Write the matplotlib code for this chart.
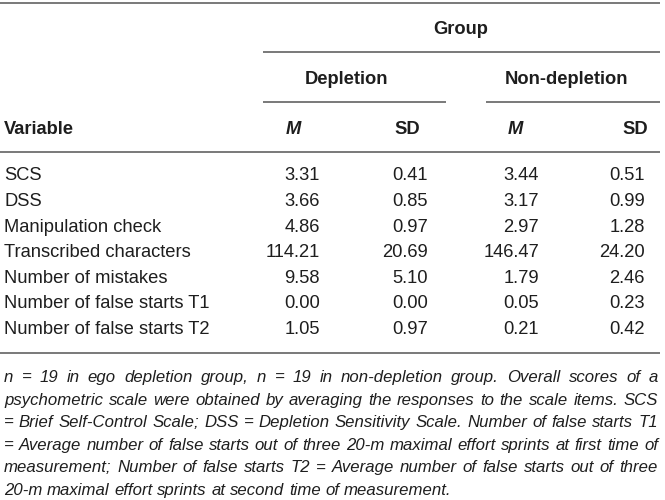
import matplotlib
matplotlib.use("Agg")
import matplotlib.pyplot as plt

# table data
variables = ["SCS", "DSS", "Manipulation check", "Transcribed characters",
             "Number of mistakes", "Number of false starts T1",
             "Number of false starts T2"]
dep_m = [3.31, 3.66, 4.86, 114.21, 9.58, 0.00, 1.05]
dep_sd = [0.41, 0.85, 0.97, 20.69, 5.10, 0.00, 0.97]
non_m = [3.44, 3.17, 2.97, 146.47, 1.79, 0.05, 0.21]
non_sd = [0.51, 0.99, 1.28, 24.20, 2.46, 0.23, 0.42]

note_lines = [
    "n = 19 in ego depletion group, n = 19 in non-depletion group. Overall scores of a",
    "psychometric scale were obtained by averaging the responses to the scale items. SCS",
    "= Brief Self-Control Scale; DSS = Depletion Sensitivity Scale. Number of false starts T1",
    "= Average number of false starts out of three 20-m maximal effort sprints at first time of",
    "measurement; Number of false starts T2 = Average number of false starts out of three",
    "20-m maximal effort sprints at second time of measurement.",
]

plt.rcParams['font.family'] = ['Liberation Sans', 'DejaVu Sans']
FS = 13.2
NFS = 12.1
TXT = '#1e1e1e'
LINE = '#6e6e6e'
BASE = 6.5    # baseline offset below the visual centre of a row (px)
NBASE = 6.0

W, H = 665, 500
fig = plt.figure(figsize=(W / 100, H / 100), dpi=100)
ax = fig.add_axes([0, 0, 1, 1])
ax.set_xlim(0, W)
ax.set_ylim(H, 0)
ax.axis('off')


def hline(y, x0, x1):
    ax.plot([x0, x1], [y, y], color=LINE, lw=1.3, solid_capstyle='butt')


def cell(x, y, s, ha='left', **kw):
    ax.text(x, y + BASE, s, ha=ha, va='baseline', fontsize=FS, color=TXT, **kw)


# rules
hline(3, 0, 660)
hline(52, 263, 660)
hline(102, 263, 446)
hline(102, 486, 660)
hline(152, 0, 660)
hline(353, 0, 660)

# headers
cell(461, 27, "Group", ha='center', fontweight='bold')
cell(347, 77, "Depletion", ha='center', fontweight='bold')
cell(567, 77, "Non-depletion", ha='center', fontweight='bold')
cell(4, 127, "Variable", fontweight='bold')
for xc, lab, st in [(293, "M", 'italic'), (407, "SD", 'normal'),
                    (515, "M", 'italic'), (635, "SD", 'normal')]:
    cell(xc, 127, lab, ha='center', fontweight='bold', fontstyle=st)

# body
cols = [(320, dep_m), (428, dep_sd), (539, non_m), (645, non_sd)]
for i, name in enumerate(variables):
    y = 174 + i * 25.6
    cell(4, y, name)
    for xr, vals in cols:
        cell(xr, y, f"{vals[i]:.2f}", ha='right')

# justified note
renderer = fig.canvas.get_renderer()
left, right = 4, 658
for j, line in enumerate(note_lines):
    y = 376 + j * 22.6 + NBASE
    words = line.split(" ")
    texts = [ax.text(0, y, w, ha='left', va='baseline', fontsize=NFS,
                     fontstyle='italic', color=TXT) for w in words]
    widths = [t.get_window_extent(renderer).width for t in texts]
    if j < len(note_lines) - 1:
        gap = (right - left - sum(widths)) / (len(words) - 1)
    else:
        sp = ax.text(0, 0, "a a", fontsize=NFS, fontstyle='italic')
        sa = ax.text(0, 0, "aa", fontsize=NFS, fontstyle='italic')
        gap = sp.get_window_extent(renderer).width - sa.get_window_extent(renderer).width
        sp.remove()
        sa.remove()
    x = left
    for t, w in zip(texts, widths):
        t.set_x(x)
        x += w + gap

fig.savefig("out.png", dpi=100)
